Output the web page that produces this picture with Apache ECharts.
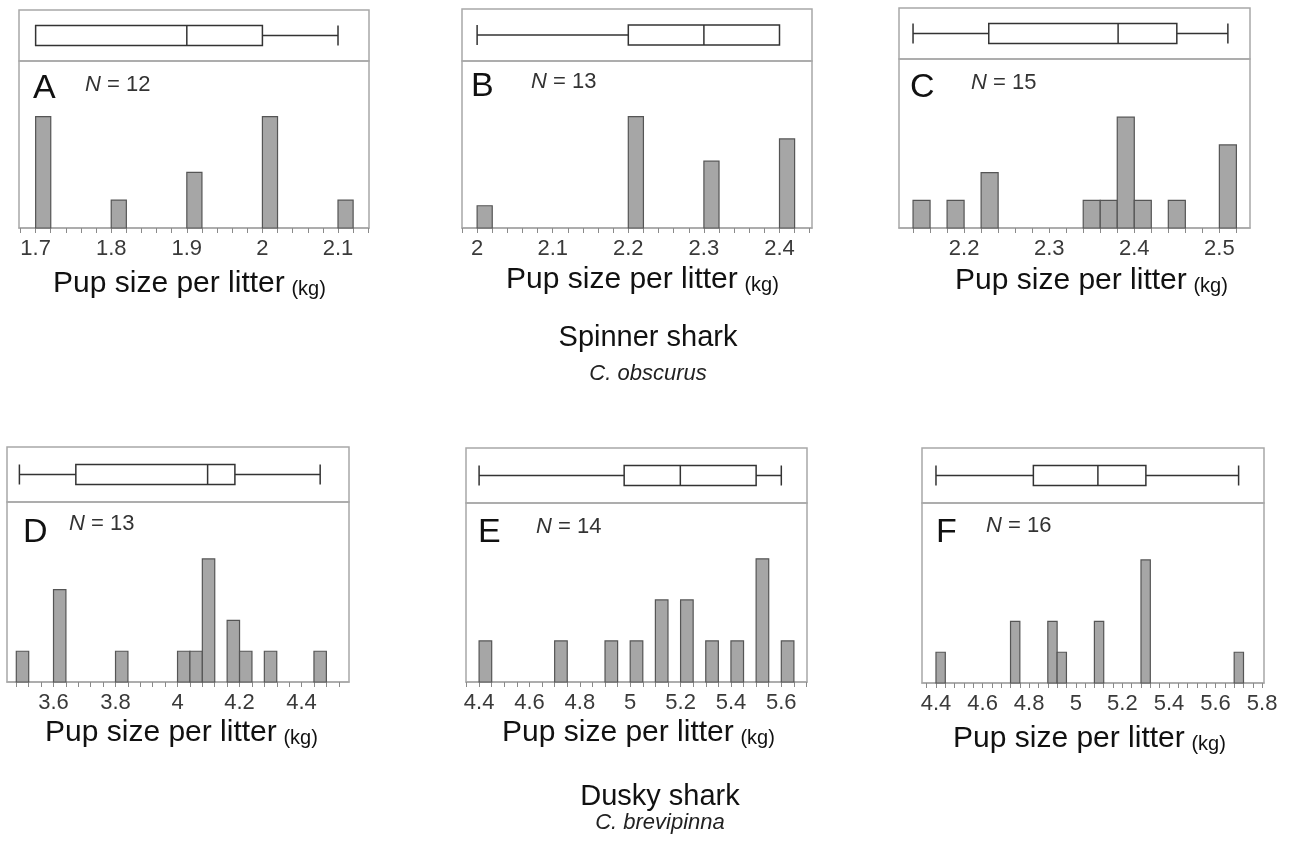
<!DOCTYPE html>
<html>
<head>
<meta charset="utf-8">
<title>Pup size per litter</title>
<script src="https://cdn.jsdelivr.net/npm/echarts@6/dist/echarts.min.js"></script>
<style>
  html, body { margin: 0; padding: 0; background: #fff; }
  #chart { width: 1295px; height: 841px; }
</style>
</head>
<body>
<div id="chart"></div>
<script>
// --- データ ---

const panelLetters = ['A', 'B', 'C', 'D', 'E', 'F'];
const sampleSizes = [12, 13, 15, 13, 14, 16];

// ヒストグラム: 階級の左端と度数
const binsA = [1.7, 1.8, 1.9, 2.0, 2.1];
const countsA = [4, 1, 2, 4, 1];
const binsB = [2.0, 2.2, 2.3, 2.4];
const countsB = [1, 5, 3, 4];
const binsC = [2.14, 2.18, 2.22, 2.34, 2.36, 2.38, 2.40, 2.44, 2.50];
const countsC = [1, 1, 2, 1, 1, 4, 1, 1, 3];
const binsD = [3.48, 3.60, 3.80, 4.00, 4.04, 4.08, 4.16, 4.20, 4.28, 4.44];
const countsD = [1, 3, 1, 1, 1, 4, 2, 1, 1, 1];
const binsE = [4.4, 4.7, 4.9, 5.0, 5.1, 5.2, 5.3, 5.4, 5.5, 5.6];
const countsE = [1, 1, 1, 1, 2, 2, 1, 1, 3, 1];
const binsF = [4.40, 4.72, 4.88, 4.92, 5.08, 5.28, 5.68];
const countsF = [1, 2, 2, 1, 2, 4, 1];
const binWidths = [0.02, 0.02, 0.02, 0.04, 0.05, 0.04];

// 箱ひげ図: [最小, Q1, 中央値, Q3, 最大]
const boxA = [1.7, 1.7, 1.9, 2.0, 2.1];
const boxB = [2.0, 2.2, 2.3, 2.4, 2.4];
const boxC = [2.14, 2.229, 2.381, 2.450, 2.51];
const boxD = [3.49, 3.672, 4.097, 4.185, 4.46];
const boxE = [4.4, 4.976, 5.199, 5.5, 5.6];
const boxF = [4.4, 4.818, 5.095, 5.301, 5.699];

// 軸
const xMins = [1.678, 1.980, 2.1235, 3.450, 4.348, 4.340];
const xMaxs = [2.141, 2.443, 2.536, 4.553, 5.702, 5.808];
const yMaxs = [6.0, 7.5, 6.1, 5.85, 4.36, 5.85];
const tickStepsMinor = [0.02, 0.02, 0.02, 0.04, 0.05, 0.04];
const tickLabelsA = [1.7, 1.8, 1.9, 2, 2.1];
const tickLabelsB = [2, 2.1, 2.2, 2.3, 2.4];
const tickLabelsC = [2.2, 2.3, 2.4, 2.5];
const tickLabelsD = [3.6, 3.8, 4, 4.2, 4.4];
const tickLabelsE = [4.4, 4.6, 4.8, 5, 5.2, 5.4, 5.6];
const tickLabelsF = [4.4, 4.6, 4.8, 5, 5.2, 5.4, 5.6, 5.8];

const axisTitle = 'Pup size per litter';
const axisUnit = '(kg)';
const groupTitles = ['Spinner shark', 'Dusky shark'];
const groupSpecies = ['C. obscurus', 'C. brevipinna'];

// --- レイアウト (px) ---
// [left, top, width, boxHeight, histHeight]
const panelRects = [
    [19, 10, 350, 51, 167],
    [462, 9, 350, 52, 167],
    [899, 8, 351, 51, 169],
    [7, 447, 342, 55, 180],
    [466, 448, 341, 55, 179],
    [922, 448, 342, 55, 180]
];
// [letterX, letterY, nX, nY, titleX, titleY]
const textPos = [
    [33, 89, 85, 85, 53, 284],
    [471, 87, 531, 82, 506, 280],
    [910, 88, 971, 83, 955, 281],
    [23, 533, 69, 524, 45, 733],
    [478, 533, 536, 527, 502, 733],
    [936, 533, 986, 526, 953, 739]
];
const groupTitlePos = [[648, 338, 374], [660, 797, 823]];

const FONT = '"Liberation Sans", Arial, sans-serif';
const FONT_NARROW = '"Liberation Sans Narrow", "Liberation Sans", Arial, sans-serif';
const FRAME = '#a8a8a8';

const allBins = [binsA, binsB, binsC, binsD, binsE, binsF];
const allCounts = [countsA, countsB, countsC, countsD, countsE, countsF];
const allBoxes = [boxA, boxB, boxC, boxD, boxE, boxF];
const allTickLabels = [tickLabelsA, tickLabelsB, tickLabelsC, tickLabelsD, tickLabelsE, tickLabelsF];

function minorTicks(min, max, step) {
    const out = [];
    let v = Math.ceil(min / step - 1e-6) * step;
    while (v <= max + 1e-9) {
        out.push(Math.round(v * 1000) / 1000);
        v += step;
    }
    return out;
}

const grids = [];
const xAxes = [];
const yAxes = [];
const series = [];
const graphics = [];

panelLetters.forEach((letter, i) => {
    const [left, top, width, boxH, histH] = panelRects[i];
    const boxIdx = i * 2;
    const histIdx = i * 2 + 1;

    grids.push({ left: left, top: top, width: width, height: boxH, show: true,
        borderColor: FRAME, borderWidth: 1.5, backgroundColor: 'transparent' });
    grids.push({ left: left, top: top + boxH, width: width, height: histH, show: true,
        borderColor: FRAME, borderWidth: 1.5, backgroundColor: 'transparent' });

    xAxes.push({ type: 'value', gridIndex: boxIdx, min: xMins[i], max: xMaxs[i], show: false });
    xAxes.push({
        type: 'value', gridIndex: histIdx, min: xMins[i], max: xMaxs[i],
        splitLine: { show: false },
        axisLine: { show: true, lineStyle: { color: FRAME, width: 1.5 } },
        axisTick: { show: true, length: 5, customValues: minorTicks(xMins[i], xMaxs[i], tickStepsMinor[i]),
            lineStyle: { color: '#8a8a8a', width: 1 } },
        axisLabel: { show: true, customValues: allTickLabels[i], margin: 10,
            fontFamily: FONT_NARROW, fontSize: 22, color: '#3a3a3a' }
    });

    yAxes.push({ type: 'category', gridIndex: boxIdx, data: ['box'], show: false });
    yAxes.push({ type: 'value', gridIndex: histIdx, min: 0, max: yMaxs[i], show: false });

    series.push({
        type: 'boxplot', xAxisIndex: boxIdx, yAxisIndex: boxIdx,
        boxWidth: [20, 20],
        itemStyle: { color: '#ffffff', borderColor: '#333333', borderWidth: 1.5 },
        data: [allBoxes[i]]
    });

    const w = binWidths[i];
    series.push({
        type: 'custom', xAxisIndex: histIdx, yAxisIndex: histIdx,
        data: allBins[i].map((b, k) => [b, allCounts[i][k]]),
        renderItem: (params, api) => {
            const x0 = api.value(0);
            const c = api.value(1);
            const p0 = api.coord([x0, 0]);
            const p1 = api.coord([x0 + w, c]);
            return {
                type: 'rect',
                shape: { x: p0[0], y: p1[1], width: p1[0] - p0[0], height: p0[1] - p1[1] },
                style: { fill: '#a6a6a6', stroke: '#555555', lineWidth: 1.2 }
            };
        }
    });

    const [lx, ly, nx, ny, tx, ty] = textPos[i];
    graphics.push({ type: 'text', left: lx, top: ly - 17, style: {
        text: letter, font: '34px ' + FONT, fill: '#111' } });
    graphics.push({ type: 'text', left: nx, top: ny - 11, style: {
        text: '{i|N} = ' + sampleSizes[i], font: '22px ' + FONT, fill: '#333',
        rich: { i: { fontStyle: 'italic', fontSize: 22, fontFamily: FONT, fill: '#333' } } } });
    graphics.push({ type: 'text', left: tx, top: ty - 15, style: {
        text: '{a|' + axisTitle + '}  {b|' + axisUnit + '}', fill: '#111',
        rich: {
            a: { fontSize: 30, fontFamily: FONT, lineHeight: 31, verticalAlign: 'bottom', fill: '#111' },
            b: { fontSize: 20, fontFamily: FONT, lineHeight: 31, verticalAlign: 'bottom', fill: '#111' }
        } } });
});

groupTitles.forEach((t, g) => {
    const [cx, y1, y2] = groupTitlePos[g];
    graphics.push({ type: 'text', x: cx, y: y1, style: {
        text: t, font: '29px ' + FONT, fill: '#111', align: 'center', verticalAlign: 'middle' } });
    graphics.push({ type: 'text', x: cx, y: y2, style: {
        text: groupSpecies[g], font: 'italic 22px ' + FONT, fill: '#222', align: 'center', verticalAlign: 'middle' } });
});

const chart = echarts.init(document.getElementById('chart'), null, { renderer: 'canvas' });
chart.setOption({
    animation: false,
    backgroundColor: '#ffffff',
    grid: grids,
    xAxis: xAxes,
    yAxis: yAxes,
    series: series,
    graphic: graphics
});
</script>
</body>
</html>
